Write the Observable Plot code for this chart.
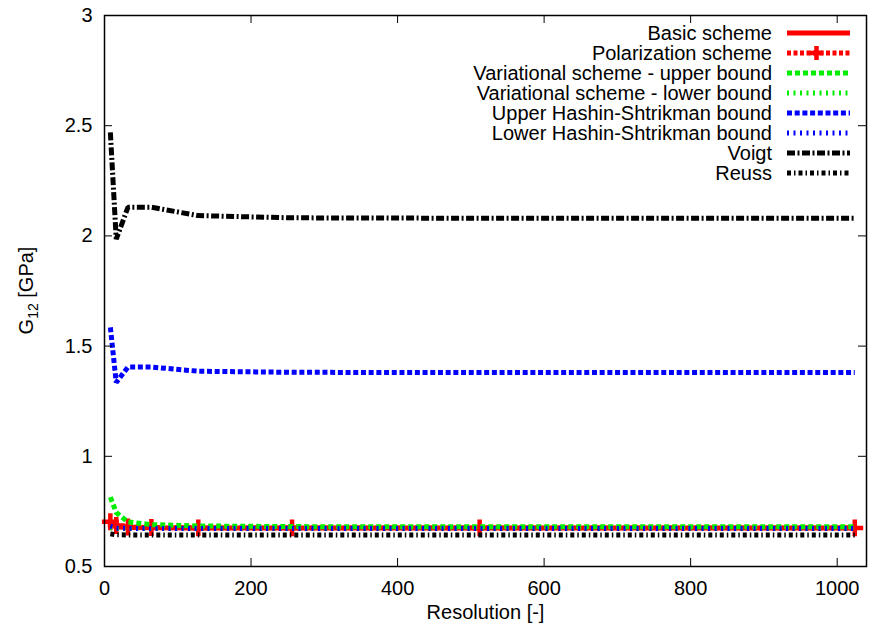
<!DOCTYPE html>
<html><head><meta charset="utf-8">
<script src="https://cdn.jsdelivr.net/npm/d3@7"></script>
<script src="https://cdn.jsdelivr.net/npm/@observablehq/plot@0.6"></script>
<style>
body{margin:0;background:#fff;}
#chart{width:875px;height:629px;}
svg{font-family:"Liberation Sans",Arial,sans-serif;}
</style></head><body><div id="chart"></div>
<script>
// ---- data ----
const resolution = [8, 16, 32, 64, 128, 256, 512, 1024];
const basicScheme        = [0.690, 0.680, 0.677, 0.676, 0.675, 0.675, 0.675, 0.675];
const polarizationScheme = [0.703, 0.686, 0.679, 0.677, 0.675, 0.675, 0.675, 0.675];
const variationalUpper   = [0.815, 0.745, 0.702, 0.690, 0.684, 0.681, 0.680, 0.680];
const variationalLower   = [0.676, 0.673, 0.672, 0.672, 0.672, 0.672, 0.672, 0.672];
const upperHS            = [1.585, 1.335, 1.405, 1.405, 1.386, 1.381, 1.380, 1.380];
const lowerHS            = [0.683, 0.674, 0.673, 0.672, 0.672, 0.672, 0.672, 0.672];
const voigt              = [2.470, 1.985, 2.130, 2.130, 2.092, 2.082, 2.080, 2.080];
const reuss              = [0.648, 0.644, 0.643, 0.643, 0.643, 0.643, 0.643, 0.643];
const seriesNames = ["Basic scheme", "Polarization scheme", "Variational scheme - upper bound",
  "Variational scheme - lower bound", "Upper Hashin-Shtrikman bound", "Lower Hashin-Shtrikman bound",
  "Voigt", "Reuss"];
const seriesValues = [basicScheme, polarizationScheme, variationalUpper, variationalLower, upperHS, lowerHS, voigt, reuss];
const xTicks = [0, 200, 400, 600, 800, 1000];
const yTicks = [0.5, 1, 1.5, 2, 2.5, 3];
const xLabel = "Resolution [-]";

// ---- styles ----
const styles = [
  {stroke: "#ff0000", dash: null},
  {stroke: "#ff0000", dash: "4,2.5"},
  {stroke: "#00ee00", dash: "5,3"},
  {stroke: "#00ee00", dash: "2,4.5"},
  {stroke: "#0000ff", dash: "5,2.7"},
  {stroke: "#0000ff", dash: "2,4.5"},
  {stroke: "#000000", dash: "8,2.5,2,2.5"},
  {stroke: "#000000", dash: "4,3,1.5,3"}
];

const rows = seriesNames.map((name, i) => resolution.map((r, j) => ({series: name, x: r, y: seriesValues[i][j]})));

const W = 875, H = 629, mL = 104, mR = 9, mT = 15, mB = 63;
const innerW = W - mL - mR, innerH = H - mT - mB;
const tickLen = 8;

const marks = [];
rows.forEach((data, i) => {
  marks.push(Plot.line(data, {x: "x", y: "y", stroke: styles[i].stroke, strokeWidth: 5,
    strokeDasharray: styles[i].dash, strokeLinecap: "butt", strokeLinejoin: "miter"}));
  if (i === 1) marks.push(Plot.dot(data, {x: "x", y: "y", symbol: "plus", r: 5.5, stroke: "#ff0000", strokeWidth: 4.5, strokeLinecap: "butt"}));
});

marks.push(
  Plot.frame({stroke: "black", strokeWidth: 1.5}),
  Plot.tickX(xTicks, {x: d => d, insetTop: innerH - tickLen, stroke: "black", strokeWidth: 1}),
  Plot.tickX(xTicks, {x: d => d, insetBottom: innerH - tickLen, stroke: "black", strokeWidth: 1}),
  Plot.tickY(yTicks, {y: d => d, insetRight: innerW - tickLen, stroke: "black", strokeWidth: 1}),
  Plot.tickY(yTicks, {y: d => d, insetLeft: innerW - tickLen, stroke: "black", strokeWidth: 1}),
  Plot.axisX(xTicks, {tickSize: 0, tickPadding: 14, fontSize: 20, label: null, tickFormat: d => String(d)}),
  Plot.axisY(yTicks, {tickSize: 0, tickPadding: 12, fontSize: 20, label: null, tickFormat: d => String(d)}),
  Plot.text([xLabel], {frameAnchor: "bottom", dy: 52, fontSize: 20, fill: "black"})
);

const chart = Plot.plot({
  width: W, height: H,
  marginLeft: mL, marginRight: mR, marginTop: mT, marginBottom: mB,
  x: {domain: [0, 1040]},
  y: {domain: [0.5, 3]},
  style: {fontFamily: '"Liberation Sans", Arial, sans-serif', fontSize: "20px", color: "black", background: "white"},
  marks
});
document.getElementById("chart").appendChild(chart);

// ---- y-axis title with subscript ----
const svg = d3.select(chart);
const yt = svg.append("text")
  .attr("transform", `translate(33,${mT + innerH / 2}) rotate(-90)`)
  .attr("text-anchor", "middle").attr("font-size", 20).attr("fill", "black");
yt.append("tspan").text("G");
yt.append("tspan").attr("font-size", 14).attr("dy", 5).text("12");
yt.append("tspan").attr("dy", -5).text(" [GPa]");

// ---- legend (inside plot, top right) ----
const lg = svg.append("g");
const textRight = 772, lineX1 = 787, lineX2 = 850, row0 = 33, rowH = 20;
seriesNames.forEach((name, i) => {
  const y = row0 + i * rowH;
  lg.append("text").attr("x", textRight).attr("y", y).attr("dy", "0.35em")
    .attr("text-anchor", "end").attr("font-size", 20).attr("fill", "black").text(name);
  lg.append("line").attr("x1", lineX1).attr("x2", lineX2).attr("y1", y).attr("y2", y)
    .attr("stroke", styles[i].stroke).attr("stroke-width", 5)
    .attr("stroke-dasharray", styles[i].dash).attr("stroke-linecap", "butt");
  if (i === 1) {
    const cx = (lineX1 + lineX2) / 2 - 2;
    lg.append("path").attr("d", `M${cx - 7},${y}H${cx + 7}M${cx},${y - 7}V${y + 7}`)
      .attr("stroke", "#ff0000").attr("stroke-width", 4.5).attr("fill", "none");
  }
});
</script>
</body></html>
